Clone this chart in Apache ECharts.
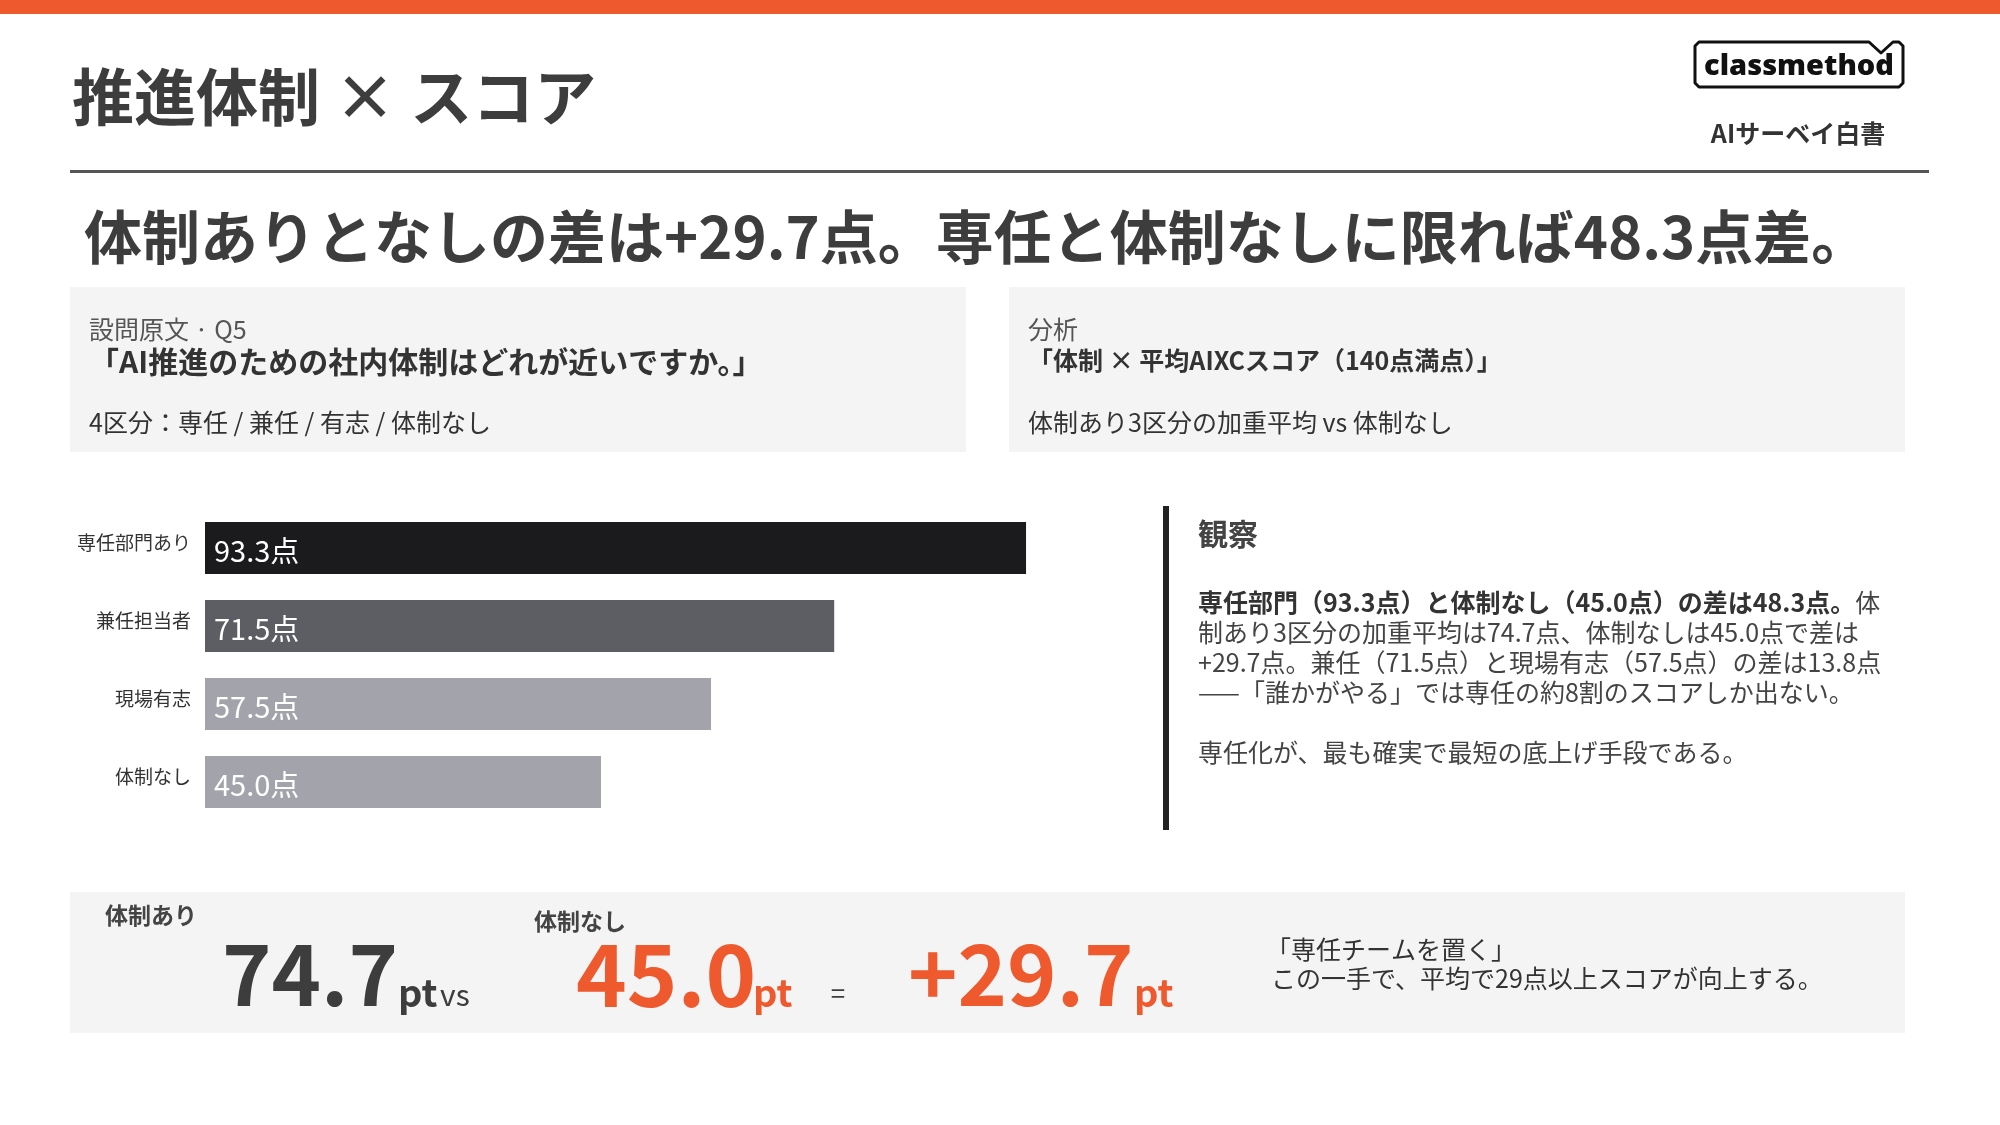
<!DOCTYPE html>
<html>
<head>
<meta charset="utf-8">
<script src="https://cdn.jsdelivr.net/npm/echarts@6/dist/echarts.min.js"></script>
<style>
html,body{margin:0;padding:0;background:#fff;}
#chart{width:2000px;height:1125px;}
</style>
</head>
<body>
<div id="chart"></div>
<script>
// ---- data ----
const categories = ['専任部門あり', '兼任担当者', '現場有志', '体制なし'];
const scores = [93.3, 71.5, 57.5, 45.0];
const withSystem = 74.7;
const withoutSystem = 45.0;
const scoreGap = 29.7;
const maxGap = 48.3;

// ---- styles ----
const barColors = ['#1B1B1D', '#5D5E64', '#A3A3AB', '#A3A3AB'];
const FONT = "'Noto Sans CJK JP', 'Noto Sans', sans-serif";
const ORANGE = '#EE5A2E';
const DARK = '#3D3D3D';

function txt(x, y, text, size, opts) {
  opts = opts || {};
  return {
    type: 'text', x: x, y: y, z: 10,
    style: Object.assign({
      text: text, fontSize: size, fontFamily: FONT,
      fontWeight: opts.bold ? 'bold' : 'normal',
      fill: opts.color || '#333',
      textAlign: opts.align || 'left', align: opts.align || 'left',
      textVerticalAlign: 'middle', verticalAlign: 'middle'
    }, opts.extra || {})
  };
}

const chart = echarts.init(document.getElementById('chart'), null, {renderer: 'canvas'});

const logoPts = [[1699,42],[1869,42],[1881,53],[1893,42],[1899,42],[1903,46],[1903,83],[1899,87],[1699,87],[1695,83],[1695,46]];

const graphics = [
  {type: 'rect', shape: {x: 0, y: 0, width: 2000, height: 14}, style: {fill: ORANGE}},
  txt(72, 97, '推進体制 × スコア', 62, {bold: true, color: DARK}),
  {type: 'rect', shape: {x: 70, y: 170, width: 1859, height: 3}, style: {fill: '#555'}},
  // logo
  {type: 'polygon', shape: {points: logoPts}, style: {fill: 'none', stroke: '#111', lineWidth: 3, lineJoin: 'round'}},
  {type: 'text', x: 1799, y: 67, style: {text: 'classmethod', fontSize: 29, fontWeight: 900,
    fontFamily: "'Noto Sans', sans-serif", fill: '#111', textAlign: 'center', align: 'center',
    textVerticalAlign: 'middle', verticalAlign: 'middle'}},
  txt(1798, 133, 'AIサーベイ白書', 25, {bold: true, align: 'center', color: '#333'}),
  // headline
  txt(84, 237, '体制ありとなしの差は+' + scoreGap.toFixed(1) + '点。専任と体制なしに限れば' + maxGap.toFixed(1) + '点差。', 58, {bold: true, color: DARK}),
  // info boxes
  {type: 'rect', shape: {x: 70, y: 287, width: 896, height: 165}, style: {fill: '#F4F4F4'}},
  {type: 'rect', shape: {x: 1009, y: 287, width: 896, height: 165}, style: {fill: '#F4F4F4'}},
  txt(89, 329, '設問原文 · Q5', 25, {color: '#555'}),
  txt(89, 362, '「AI推進のための社内体制はどれが近いですか。」', 30, {bold: true, color: '#333'}),
  txt(89, 422, '4区分：専任 / 兼任 / 有志 / 体制なし', 25, {color: '#333'}),
  txt(1028, 329, '分析', 25, {color: '#555'}),
  txt(1028, 360, '「体制 × 平均AIXCスコア（140点満点）」', 25, {bold: true, color: '#333'}),
  txt(1028, 422, '体制あり3区分の加重平均 vs 体制なし', 25, {color: '#333'}),
  // observation panel
  {type: 'rect', shape: {x: 1163, y: 506, width: 6, height: 324}, style: {fill: '#222'}},
  txt(1198, 534, '観察', 30, {bold: true, color: '#444'}),
  {type: 'text', x: 1198, y: 587, z: 10, style: {
    text: '{b|専任部門（93.3点）と体制なし（45.0点）の差は48.3点。}{n|体}\n' +
          '{n|制あり3区分の加重平均は74.7点、体制なしは45.0点で差は}\n' +
          '{n|+29.7点。兼任（71.5点）と現場有志（57.5点）の差は13.8点}\n' +
          '{n|——「誰かがやる」では専任の約8割のスコアしか出ない。}\n' +
          '{n| }\n' +
          '{n|専任化が、最も確実で最短の底上げ手段である。}',
    fontFamily: FONT, fontSize: 25, fill: '#444', textAlign: 'left', align: 'left',
    textVerticalAlign: 'top', verticalAlign: 'top',
    rich: {
      b: {fontFamily: FONT, fontSize: 25, fontWeight: 'bold', fill: '#333', lineHeight: 30},
      n: {fontFamily: FONT, fontSize: 25, fontWeight: 'normal', fill: '#444', lineHeight: 30}
    }
  }},
  // bottom summary box
  {type: 'rect', shape: {x: 70, y: 892, width: 1835, height: 141}, style: {fill: '#F4F4F4'}},
  txt(105, 915, '体制あり', 23, {bold: true, color: '#444'}),
  txt(534, 921, '体制なし', 23, {bold: true, color: '#444'}),
  txt(222, 974, withSystem.toFixed(1), 84, {bold: true, color: DARK}),
  txt(398, 993, 'pt', 38, {bold: true, color: DARK}),
  txt(440, 995, 'vs', 30, {color: DARK}),
  txt(576, 974, withoutSystem.toFixed(1), 86, {bold: true, color: ORANGE}),
  txt(753, 993, 'pt', 38, {bold: true, color: ORANGE}),
  txt(838, 993, '=', 26, {color: DARK, align: 'center'}),
  txt(908, 974, '+' + scoreGap.toFixed(1), 84, {bold: true, color: ORANGE}),
  txt(1134, 993, 'pt', 38, {bold: true, color: ORANGE}),
  txt(1266, 949, '「専任チームを置く」', 25, {color: '#333'}),
  txt(1271, 978, 'この一手で、平均で29点以上スコアが向上する。', 25, {color: '#333'})
];

chart.setOption({
  animation: false,
  backgroundColor: '#ffffff',
  grid: {left: 205, top: 509, width: 880, height: 312, containLabel: false},
  xAxis: {type: 'value', min: 0, max: 100, show: false},
  yAxis: {
    type: 'category', data: categories, inverse: true,
    axisLine: {show: false}, axisTick: {show: false}, splitLine: {show: false},
    axisLabel: {fontSize: 19, color: '#333', margin: 14, fontFamily: FONT,
      verticalAlign: 'bottom', lineHeight: 10}
  },
  series: [{
    type: 'bar',
    barWidth: 52,
    data: scores.map((v, i) => ({value: v, itemStyle: {color: barColors[i]}})),
    label: {
      show: true, position: 'insideLeft', distance: 9, offset: [0, 3],
      formatter: p => Number(p.value).toFixed(1) + '点',
      color: '#fff', fontSize: 29, fontFamily: FONT
    }
  }],
  graphic: graphics
});
</script>
</body>
</html>
